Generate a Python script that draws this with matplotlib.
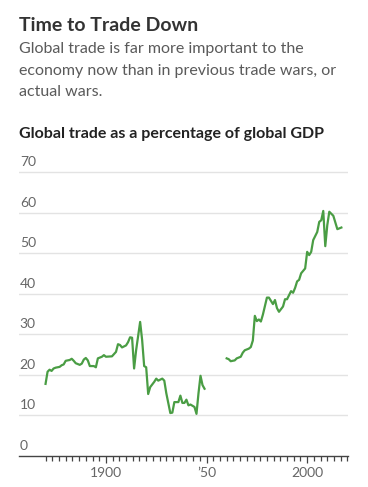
import numpy as np
import matplotlib
matplotlib.use('Agg')
import matplotlib.pyplot as plt

# global trade as % of global GDP
years_early = [1870, 1871, 1872, 1873, 1874, 1875, 1877, 1878, 1879, 1880,
               1882, 1883, 1884, 1885, 1887, 1888, 1889, 1890, 1891, 1892,
               1894, 1895, 1896, 1898, 1899, 1900, 1903, 1905, 1906, 1907,
               1908, 1910, 1911, 1912, 1913, 1914, 1915, 1917, 1918, 1919,
               1920, 1921, 1922, 1924, 1925, 1926, 1928, 1929, 1930, 1932,
               1933, 1934, 1936, 1937, 1938, 1939, 1940, 1941, 1942, 1944,
               1945, 1946, 1947, 1948, 1949]
trade_early = [17.8, 20.8, 21.3, 21.0, 21.6, 21.8, 22.0, 22.4, 22.6, 23.5,
               23.7, 24.0, 23.5, 22.9, 22.5, 22.8, 23.8, 24.2, 23.6, 22.2,
               22.2, 21.9, 24.1, 24.5, 24.9, 24.5, 24.6, 25.7, 27.6, 27.4,
               26.8, 27.3, 28.1, 29.3, 29.2, 21.6, 26.1, 33.1, 28.6, 22.2,
               21.9, 15.3, 17.0, 18.3, 19.1, 18.6, 19.1, 18.6, 15.5, 10.6,
               10.7, 13.3, 13.3, 14.9, 13.1, 13.1, 13.9, 12.5, 12.7, 12.1,
               10.4, 15.5, 19.8, 17.5, 16.6]

years_late = [1960, 1961, 1962, 1964, 1965, 1967, 1968, 1969, 1971, 1972,
              1973, 1974, 1975, 1976, 1977, 1978, 1980, 1981, 1983, 1984,
              1985, 1986, 1988, 1989, 1990, 1992, 1993, 1994, 1995, 1996,
              1997, 1998, 1999, 2000, 2001, 2002, 2003, 2005, 2006, 2007,
              2008, 2009, 2010, 2011, 2012, 2013, 2015, 2016, 2017]
trade_late = [24.1, 23.9, 23.4, 23.6, 24.1, 24.5, 25.5, 26.1, 26.5, 26.9,
              28.5, 34.6, 33.3, 33.7, 33.2, 34.9, 39.1, 39.1, 37.5, 38.5,
              36.5, 35.6, 36.9, 38.7, 38.7, 40.7, 40.3, 41.5, 43.1, 43.5,
              45.1, 45.7, 46.3, 50.4, 49.6, 50.4, 53.3, 55.3, 57.8, 58.2,
              60.5, 51.8, 57.0, 60.3, 59.8, 59.3, 56.0, 56.2, 56.4]

y_ticks = [0, 10, 20, 30, 40, 50, 60, 70]
x_major = [1900, 1950, 2000]
x_labels = ['1900', '\u201950', '2000']

plt.rcParams['font.family'] = ['Lato', 'DejaVu Sans']

green = '#4a9d44'
grid_c = '#e3e3e3'
label_c = '#666666'

fig = plt.figure(figsize=(3.68, 4.87), dpi=100)
ax = fig.add_axes([0.0516, 0.0637, 0.8941, 0.5905])

fig.text(0.052, 0.937, 'Time to Trade Down', fontsize=14, fontweight='bold',
         color='#333333', va='baseline')
fig.text(0.052, 0.913, 'Global trade is far more important to the\n'
         'economy now than in previous trade wars, or\nactual wars.',
         fontsize=11.5, fontweight='normal', color='#5a5a5a', va='top',
         linespacing=1.68)
fig.text(0.052, 0.717, 'Global trade as a percentage of global GDP',
         fontsize=11.5, fontweight='bold', color='#222222', va='baseline')

ax.plot(years_early, trade_early, color=green, linewidth=1.6,
        solid_joinstyle='round', zorder=3)
ax.plot(years_late, trade_late, color=green, linewidth=1.6,
        solid_joinstyle='round', zorder=3)

ax.set_xlim(1856.8, 2020.3)
ax.set_ylim(0, 71)

for v in y_ticks[1:]:
    ax.axhline(v, color=grid_c, linewidth=1.0, zorder=1)
for v in y_ticks:
    ax.text(1857.2, v + 1.0, str(v), fontsize=10, color=label_c,
            ha='left', va='bottom')

for s in ['left', 'right', 'top']:
    ax.spines[s].set_visible(False)
ax.spines['bottom'].set_color('#444444')
ax.spines['bottom'].set_linewidth(1.0)

ax.set_yticks([])
ax.set_xticks(x_major)
ax.set_xticklabels(x_labels, fontsize=10, color=label_c)
ax.set_xticks(np.arange(1870, 2020.5, 10 / 3), minor=True)
ax.tick_params(axis='x', which='major', length=5, width=0.9, color='#444444', pad=3)
ax.tick_params(axis='x', which='minor', length=3.5, width=0.9, color='#444444')

fig.savefig('out.png', dpi=100)
